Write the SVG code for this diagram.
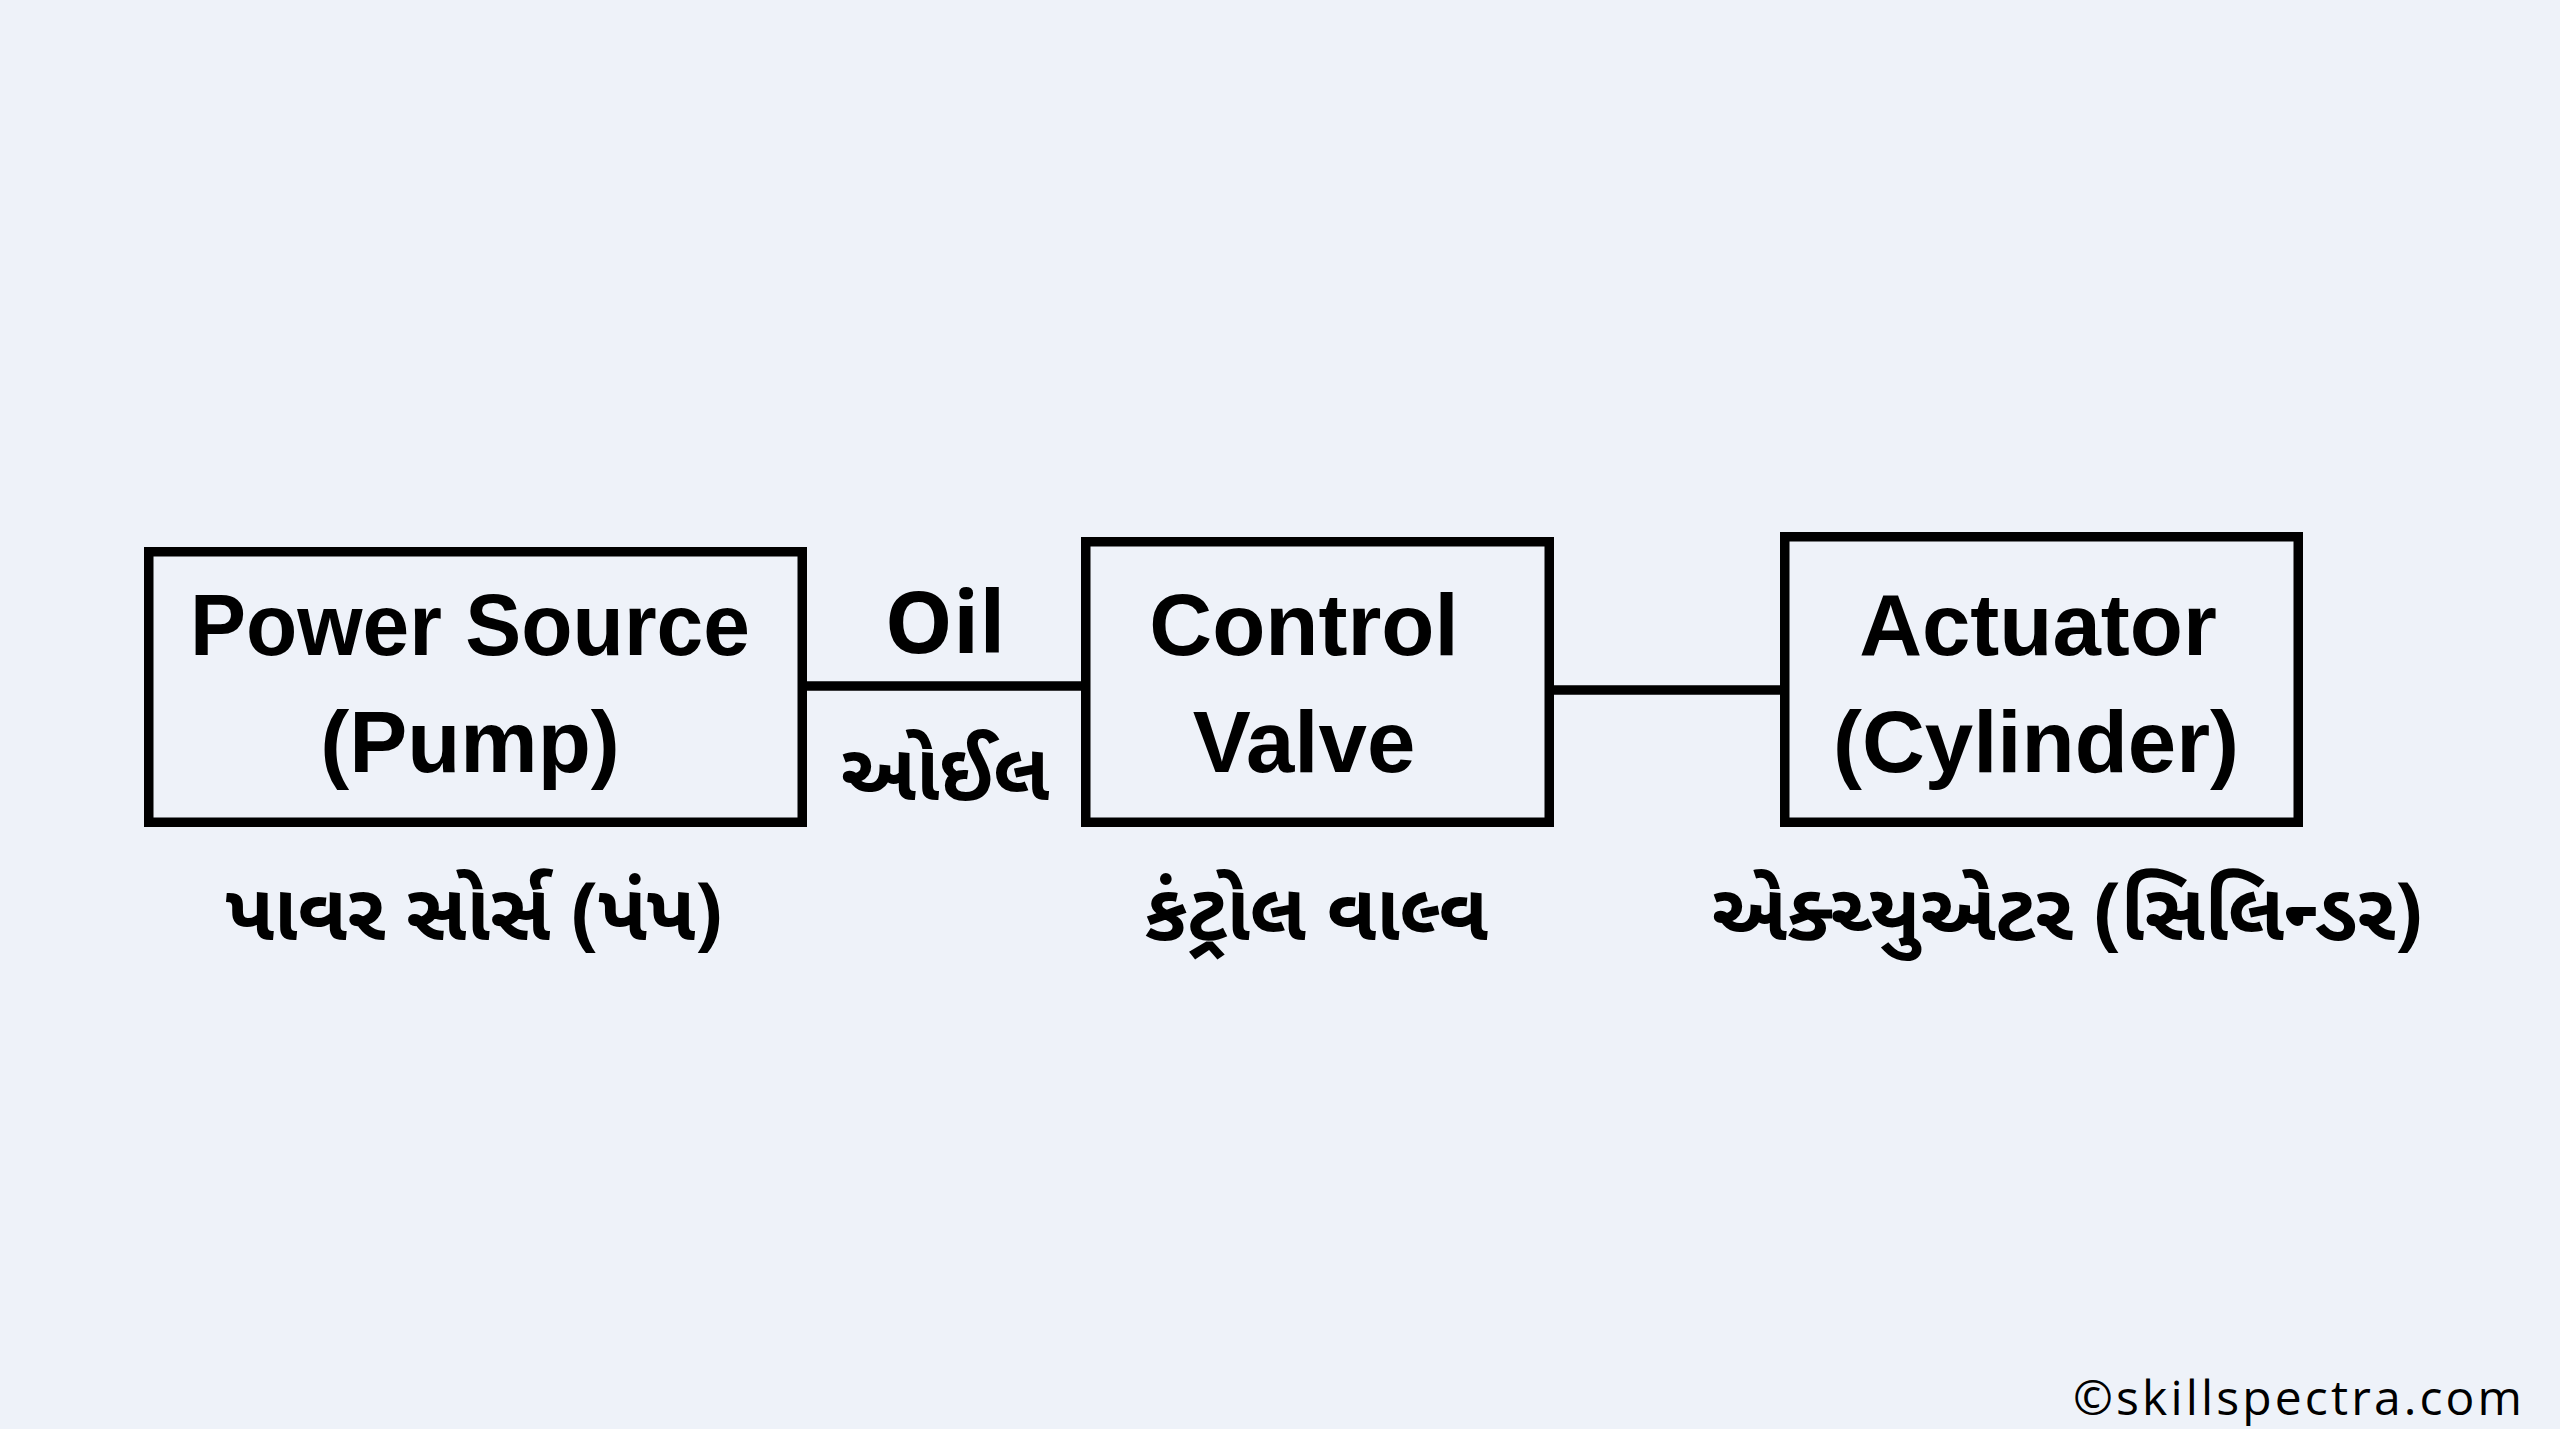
<svg xmlns="http://www.w3.org/2000/svg" width="2560" height="1429" viewBox="0 0 2560 1429">
<style>
.bg{fill:#EEF2F9}
.box{fill:#EEF2F9;stroke:#000;stroke-width:9.5}
.con{stroke:#000;stroke-width:9.5;fill:none}
.lbl{font-family:"Liberation Sans",Arial,sans-serif;font-weight:700;font-size:87px;fill:#000;text-anchor:middle}
.oil{font-family:"Open Sans","Liberation Sans",sans-serif;font-weight:700;font-size:86px;fill:#000;text-anchor:middle}
.guj{font-family:"Noto Sans Gujarati","Lohit Gujarati","Hind Vadodara","Noto Sans",sans-serif;font-weight:700;font-size:80px;fill:#000;text-anchor:middle}
.copy{font-family:"Open Sans","Liberation Sans",sans-serif;font-size:48px;fill:#000}
</style>
<rect class="bg" x="0" y="0" width="2560" height="1429"/>
<g id="connectors">
<line class="con" x1="802" y1="686" x2="1086" y2="686"/>
<line class="con" x1="1549" y1="690" x2="1785" y2="690"/>
<text class="oil" x="945" y="653">Oil</text>
<text class="guj" x="945" y="800">ઓઈલ</text>
</g>
<g id="node-power-source">
<rect class="box" x="148.75" y="551.75" width="653.5" height="270.5"/>
<text class="lbl" x="470" y="655" textLength="560" lengthAdjust="spacingAndGlyphs">Power Source</text>
<text class="lbl" x="470" y="772">(Pump)</text>
<text class="guj" x="474" y="940">પાવર સોર્સ (પંપ)</text>
</g>
<g id="node-control-valve">
<rect class="box" x="1085.75" y="541.75" width="463.5" height="280.5"/>
<text class="lbl" x="1304" y="655">Control</text>
<text class="lbl" x="1304" y="772">Valve</text>
<text class="guj" x="1316" y="940">કંટ્રોલ વાલ્વ</text>
</g>
<g id="node-actuator">
<rect class="box" x="1784.75" y="536.75" width="513.5" height="285.5"/>
<text class="lbl" x="2038" y="655">Actuator</text>
<text class="lbl" x="2036" y="772">(Cylinder)</text>
<text class="guj" x="2067" y="940">એક્ચ્યુએટર (સિલિન્ડર)</text>
</g>
<text class="copy" x="2073" y="1415" textLength="449" lengthAdjust="spacing">©skillspectra.com</text>
</svg>
